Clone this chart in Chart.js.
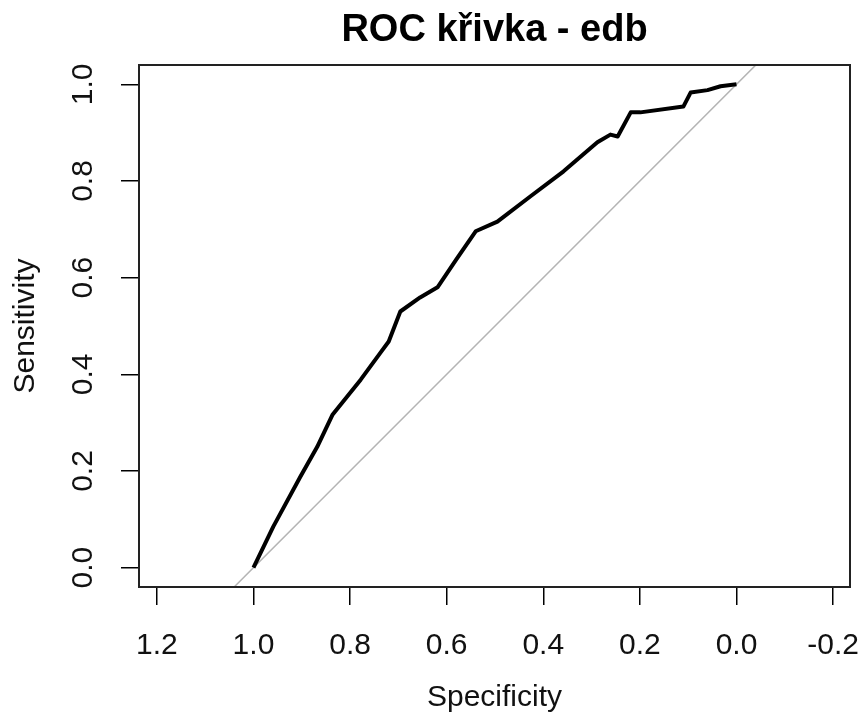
<!DOCTYPE html>
<html>
<head>
<meta charset="utf-8">
<script src="https://cdn.jsdelivr.net/npm/chart.js@4.4.1/dist/chart.umd.min.js"></script>
<style>
  html, body { margin: 0; padding: 0; background: #fff; }
  #wrap { width: 860px; height: 720px; }
</style>
</head>
<body>
<div id="wrap"><canvas id="rocChart" width="860" height="720"></canvas></div>
<script>
// ROC krivka
const specificity = [1.0, 0.959, 0.903, 0.868, 0.836, 0.778, 0.737, 0.720, 0.696, 0.655, 0.619, 0.580, 0.540,
    0.495, 0.427, 0.358, 0.288, 0.261, 0.246, 0.219, 0.199, 0.110, 0.095, 0.060, 0.033, 0.0];
const sensitivity = [0.0, 0.085, 0.188, 0.250, 0.317, 0.389, 0.445, 0.468, 0.530, 0.559, 0.580, 0.638, 0.696,
    0.716, 0.768, 0.820, 0.880, 0.896, 0.892, 0.942, 0.942, 0.954, 0.983, 0.988, 0.996, 1.0];

// diagonala (abline), oriznuta na plochu grafu
const diagX = [1.1, -0.1];
const diagY = [-0.1, 1.1];

const xTicks = [1.2, 1.0, 0.8, 0.6, 0.4, 0.2, 0.0, -0.2];
const yTicks = [0.0, 0.2, 0.4, 0.6, 0.8, 1.0];

const FONT = "'Liberation Sans', Arial, sans-serif";

const boxPlugin = {
    id: 'plotBox',
    afterDraw(chart) {
        const a = chart.chartArea;
        const ctx = chart.ctx;
        ctx.save();
        ctx.strokeStyle = '#222';
        ctx.lineWidth = 2;
        ctx.strokeRect(a.left, a.top, a.right - a.left, a.bottom - a.top);
        ctx.restore();
    }
};

const ctx = document.getElementById('rocChart').getContext('2d');

new Chart(ctx, {
    type: 'line',
    data: {
        datasets: [{
            label: 'ROC',
            data: specificity.map((s, i) => ({ x: s, y: sensitivity[i] })),
            borderColor: '#000',
            borderWidth: 4,
            pointRadius: 0,
            tension: 0,
            borderJoinStyle: 'round'
        }, {
            label: 'diagonal',
            data: diagX.map((x, i) => ({ x: x, y: diagY[i] })),
            borderColor: '#b4b4b4',
            borderWidth: 1.5,
            pointRadius: 0
        }]
    },
    options: {
        responsive: false,
        animation: false,
        events: [],
        layout: { padding: { left: 0, right: 10, top: 0, bottom: 0 } },
        plugins: {
            legend: { display: false },
            tooltip: { enabled: false },
            title: {
                display: true,
                fullSize: false,
                text: 'ROC křivka - edb',
                color: '#000',
                font: { family: FONT, size: 38, weight: 'bold' },
                padding: { top: 7.7, bottom: 11.7 }
            }
        },
        scales: {
            x: {
                type: 'linear',
                reverse: true,
                min: -0.235,
                max: 1.237,
                afterBuildTicks: scale => { scale.ticks = xTicks.map(v => ({ value: v })); },
                afterFit: scale => {
                    scale.height = 133;
                    scale.paddingLeft = 0;
                    scale.paddingRight = 0;
                },
                grid: { drawOnChartArea: false, drawTicks: true, tickLength: 18, color: '#000', lineWidth: 1.5 },
                border: { display: false },
                ticks: {
                    color: '#111',
                    padding: 23,
                    font: { family: FONT, size: 30 },
                    maxRotation: 0,
                    autoSkip: false,
                    callback: v => v.toFixed(1)
                },
                title: {
                    display: true,
                    text: 'Specificity',
                    color: '#111',
                    font: { family: FONT, size: 30 },
                    padding: { top: 0, bottom: 4 }
                }
            },
            y: {
                type: 'linear',
                min: -0.04,
                max: 1.04,
                afterBuildTicks: scale => { scale.ticks = yTicks.map(v => ({ value: v })); },
                afterFit: scale => {
                    scale.width = 139;
                    scale.paddingTop = 0;
                    scale.paddingBottom = 0;
                },
                grid: { drawOnChartArea: false, drawTicks: true, tickLength: 18, color: '#000', lineWidth: 1.5 },
                border: { display: false },
                ticks: {
                    color: '#111',
                    padding: 16,
                    font: { family: FONT, size: 30 },
                    minRotation: 90,
                    maxRotation: 90,
                    crossAlign: 'center',
                    autoSkip: false,
                    callback: v => v.toFixed(1)
                },
                title: {
                    display: true,
                    text: 'Sensitivity',
                    color: '#111',
                    font: { family: FONT, size: 30 },
                    padding: { top: 8, bottom: 0 }
                }
            }
        }
    },
    plugins: [boxPlugin]
});
</script>
</body>
</html>
